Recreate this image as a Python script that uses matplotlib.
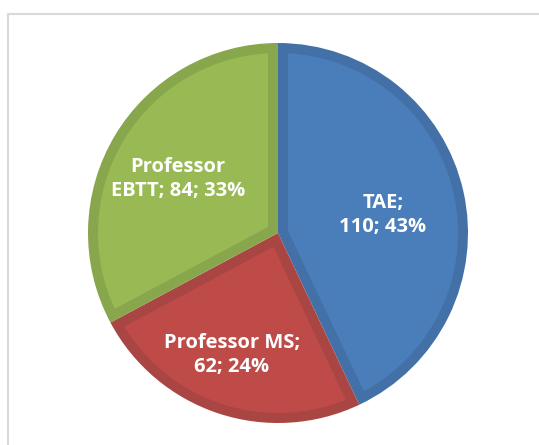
import numpy as np
import matplotlib.pyplot as plt
from matplotlib.patches import Polygon

labels = ['TAE', 'Professor MS', 'Professor\nEBTT']
values = [110, 62, 84]
percents = [43, 24, 33]
fills = ['#4a7ebb', '#be4b48', '#98b954']
edges = ['#4371a7', '#a94542', '#88a64c']

fig = plt.figure(figsize=(5.39, 4.45), dpi=100)
ax = fig.add_axes([0, 0, 1, 1])

# chart frame (only left and top visible)
ax.plot([7.5, 7.5, 539], [0, 431, 431], color='#d9d9d9', lw=1.5)

cx, cy, r, d = 278, 212, 190, 10
wedges, _ = ax.pie(values, startangle=90, counterclock=False,
                   colors=edges, center=(cx, cy), radius=r,
                   frame=True)
ax.set_xlim(0, 539)
ax.set_ylim(0, 445)
ax.axis('off')

# lighter inner part of each wedge, inset by d
C = np.array([cx, cy], float)
for w, fc in zip(wedges, fills):
    t1, t2 = np.radians(w.theta1), np.radians(w.theta2)
    half = (t2 - t1) / 2
    mid = t1 + half
    P = C + d / np.sin(half) * np.array([np.cos(mid), np.sin(mid)])
    R = r - d
    pts = [P]
    ends = []
    for a in (t1, t2):
        e = np.array([np.cos(a), np.sin(a)])
        D = P - C
        b = D @ e
        t = -b + np.sqrt(b * b - D @ D + R * R)
        X = P + t * e
        ends.append(np.arctan2(X[1] - C[1], X[0] - C[0]))
    a1, a2 = ends
    while a2 < a1:
        a2 += 2 * np.pi
    arc = np.linspace(a1, a2, 100)
    pts += list(np.column_stack([C[0] + R * np.cos(arc), C[1] + R * np.sin(arc)]))
    ax.add_patch(Polygon(pts, closed=True, facecolor=fc, edgecolor='none'))

texts = [f'TAE;\n{values[0]}; {percents[0]}%',
         f'Professor MS;\n{values[1]}; {percents[1]}%',
         f'Professor\nEBTT; {values[2]}; {percents[2]}%']
pos = [(383, 230), (232, 90), (178, 266)]
for t, (x, y) in zip(texts, pos):
    ax.text(x, y, t, ha='center', va='center', color='white',
            fontsize=14.5, fontweight='bold', family='Open Sans',
            linespacing=1.2)

fig.savefig('out.png', dpi=100)
